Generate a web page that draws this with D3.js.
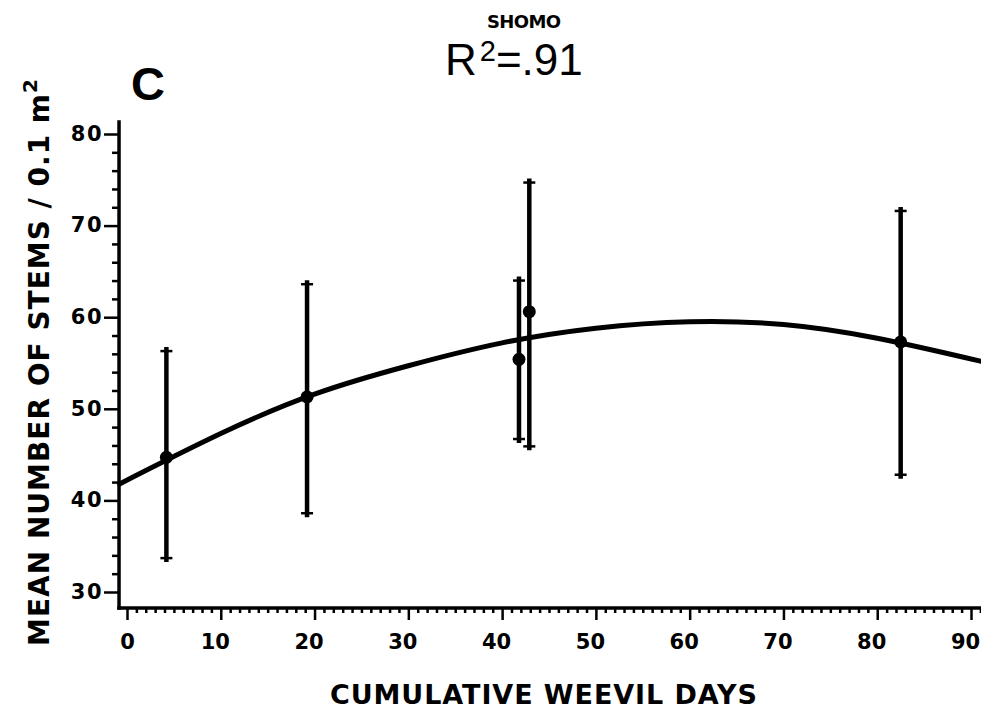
<!DOCTYPE html>
<html>
<head>
<meta charset="utf-8">
<script src="https://cdn.jsdelivr.net/npm/d3@7"></script>
<style>
  html, body { margin: 0; padding: 0; background: #fff; }
  svg { display: block; }
  .plot { font-family: "DejaVu Sans", "Liberation Sans", sans-serif; font-weight: bold; fill: #000; }
</style>
</head>
<body>
<svg id="chart" width="981" height="711"></svg>
<script>
// ---- data ----
const days       = [4.2, 19.2, 41.8, 42.9, 82.5];
const meanStems  = [44.7, 51.3, 55.4, 60.6, 57.3];
const upperBar   = [56.3, 63.6, 64.0, 74.7, 71.6];
const lowerBar   = [33.7, 38.6, 46.7, 45.9, 42.8];

// fitted regression curve
const curveDays  = [-0.8, 10, 20, 30, 40, 50, 60, 70, 80, 91];
const curveStems = [41.8, 47.3, 51.6, 54.7, 57.2, 58.8, 59.5, 59.2, 57.7, 55.2];

const xTickLabels = [0, 10, 20, 30, 40, 50, 60, 70, 80, 90];
const yTickLabels = [30, 40, 50, 60, 70, 80];

const titleSite = "SHOMO";
const titleR2   = ".91";
const panelLetter = "C";
const xTitle = "CUMULATIVE WEEVIL DAYS";
const yTitle = "MEAN NUMBER OF STEMS / 0.1 m";

// ---- layout ----
const svg = d3.select("#chart");
const x = d3.scaleLinear().domain([0, 90]).range([127, 971]);
const y = d3.scaleLinear().domain([30, 80]).range([592, 134]);
const xExtent = [-0.85, 91];
const yExtent = [28.25, 81.3];

// minor tick values
const xMinor = d3.range(0, 92, 1).filter(v => v % 10 !== 0);
const yMinor = d3.range(30, 81, 2).filter(v => v % 10 !== 0);

// axes (ticks only, domain lines drawn separately)
const gx = svg.append("g").attr("transform", `translate(0,${y(yExtent[0])})`);
gx.append("g").call(d3.axisBottom(x).tickValues(xMinor).tickSize(5).tickFormat(""));
gx.append("g").call(d3.axisBottom(x).tickValues(xTickLabels).tickSize(12).tickPadding(14));
gx.selectAll(".domain").remove();
gx.selectAll(".tick line").attr("stroke", "#000").attr("stroke-width", 2.5);
gx.selectAll(".tick text").attr("class", "plot").attr("font-size", 21).attr("dy", "0.72em")
  .attr("dx", d => String(d).length > 1 ? -6 : 0);

const gy = svg.append("g").attr("transform", `translate(${x(xExtent[0])},0)`);
gy.append("g").call(d3.axisLeft(y).tickValues(yMinor).tickSize(7).tickFormat(""));
gy.append("g").call(d3.axisLeft(y).tickValues(yTickLabels).tickSize(15).tickPadding(1));
gy.selectAll(".domain").remove();
gy.selectAll(".tick line").attr("stroke", "#000").attr("stroke-width", 2.5);
gy.selectAll(".tick text").attr("class", "plot").attr("font-size", 21).attr("dy", "0.3em")
  .attr("letter-spacing", 1.5);

// axis lines
svg.append("line")
  .attr("x1", x(xExtent[0])).attr("x2", x(xExtent[1]))
  .attr("y1", y(yExtent[0])).attr("y2", y(yExtent[0]))
  .attr("stroke", "#000").attr("stroke-width", 3.5).attr("stroke-linecap", "square");
svg.append("line")
  .attr("x1", x(xExtent[0])).attr("x2", x(xExtent[0]))
  .attr("y1", y(yExtent[0])).attr("y2", y(yExtent[1]))
  .attr("stroke", "#000").attr("stroke-width", 3.5).attr("stroke-linecap", "square");

// regression curve
const curvePts = curveDays.map((d, i) => [d, curveStems[i]]);
svg.append("path")
  .datum(curvePts)
  .attr("fill", "none").attr("stroke", "#000").attr("stroke-width", 5)
  .attr("stroke-linecap", "round")
  .attr("d", d3.line().x(d => x(d[0])).y(d => y(d[1])).curve(d3.curveNatural));

// error bars
const pts = days.map((d, i) => ({ d, m: meanStems[i], hi: upperBar[i], lo: lowerBar[i] }));
const eb = svg.append("g");
eb.selectAll(".bar").data(pts).join("line")
  .attr("x1", p => x(p.d)).attr("x2", p => x(p.d))
  .attr("y1", p => y(p.hi) - 4).attr("y2", p => y(p.lo) + 4)
  .attr("stroke", "#000").attr("stroke-width", 4.5);
eb.selectAll(".capHi").data(pts).join("line")
  .attr("x1", p => x(p.d) - 6).attr("x2", p => x(p.d) + 6)
  .attr("y1", p => y(p.hi)).attr("y2", p => y(p.hi))
  .attr("stroke", "#000").attr("stroke-width", 2.5);
eb.selectAll(".capLo").data(pts).join("line")
  .attr("x1", p => x(p.d) - 6).attr("x2", p => x(p.d) + 6)
  .attr("y1", p => y(p.lo)).attr("y2", p => y(p.lo))
  .attr("stroke", "#000").attr("stroke-width", 2.5);
eb.selectAll(".dot").data(pts).join("circle")
  .attr("cx", p => x(p.d)).attr("cy", p => y(p.m)).attr("r", 6.5).attr("fill", "#000");

// titles
svg.append("text").attr("class", "plot")
  .attr("x", 487).attr("y", 28)
  .attr("font-size", 18).attr("textLength", 74).attr("lengthAdjust", "spacing")
  .text(titleSite);

const r2 = svg.append("text")
  .attr("x", 445).attr("y", 75)
  .attr("font-family", "'Liberation Sans', Arial, sans-serif")
  .attr("font-size", 44).attr("fill", "#000");
r2.append("tspan").text("R");
r2.append("tspan").attr("font-size", 29).attr("dx", 3).attr("dy", -14).text("2");
r2.append("tspan").attr("dy", 14).text("=" + titleR2);

svg.append("text")
  .attr("x", 131).attr("y", 100)
  .attr("font-family", "'Liberation Sans', Arial, sans-serif")
  .attr("font-weight", "bold").attr("font-size", 47).attr("fill", "#000")
  .text(panelLetter);

svg.append("text").attr("class", "plot")
  .attr("x", 330).attr("y", 704)
  .attr("font-size", 27).attr("textLength", 427).attr("lengthAdjust", "spacing")
  .text(xTitle);

const yt = svg.append("text").attr("class", "plot")
  .attr("transform", "translate(49,362) rotate(-90)")
  .attr("text-anchor", "middle")
  .attr("font-size", 28).attr("letter-spacing", 1);
yt.append("tspan").text(yTitle);
yt.append("tspan").attr("font-size", 20).attr("dy", -12).text("2");
</script>
</body>
</html>
